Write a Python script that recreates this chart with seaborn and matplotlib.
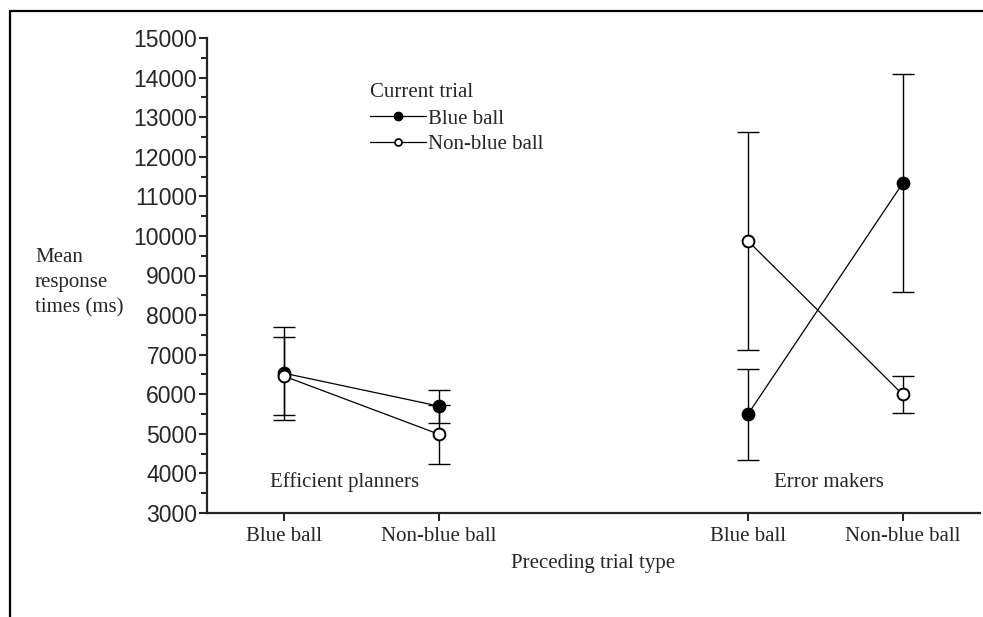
import matplotlib
matplotlib.use("Agg")
import matplotlib.pyplot as plt
import matplotlib.lines as mlines
from matplotlib.ticker import MultipleLocator
import seaborn as sns
import pandas as pd

# ---- data ----
groups = ["Efficient planners", "Error makers"]
preceding = ["Blue ball", "Non-blue ball"]
group_positions = [[0, 1], [3, 4]]
tick_positions = [0, 1, 3, 4]
tick_labels = ["Blue ball", "Non-blue ball", "Blue ball", "Non-blue ball"]

blue_means = {"Efficient planners": [6530, 5700], "Error makers": [5500, 11330]}
blue_errs = {"Efficient planners": [1170, 420], "Error makers": [1150, 2750]}
nonblue_means = {"Efficient planners": [6455, 4990], "Error makers": [9870, 5995]}
nonblue_errs = {"Efficient planners": [990, 740], "Error makers": [2760, 466]}

group_label_x = [0.39, 3.52]
group_label_y = 3780

sns.set_style("ticks")
serif = ["Liberation Serif", "DejaVu Serif"]
sans = ["Liberation Sans", "DejaVu Sans"]
plt.rcParams["font.family"] = serif

W, H = 983, 617
fig = plt.figure(figsize=(W / 100, H / 100), dpi=100)
ax = fig.add_axes([207 / W, 1 - 513 / H, (980 - 207) / W, (513 - 38) / H])

rows = []
for g, pos in zip(groups, group_positions):
    for i, p in enumerate(pos):
        rows.append(dict(group=g, x=p, trial="Blue ball", mean=blue_means[g][i], err=blue_errs[g][i]))
        rows.append(dict(group=g, x=p, trial="Non-blue ball", mean=nonblue_means[g][i], err=nonblue_errs[g][i]))
df = pd.DataFrame(rows)

styles = {"Blue ball": "black", "Non-blue ball": "white"}
for trial, fc in styles.items():
    for g in groups:
        sub = df[(df.trial == trial) & (df.group == g)]
        ax.errorbar(sub["x"], sub["mean"], yerr=sub["err"], fmt="none", ecolor="black",
                    elinewidth=1.0, capsize=8, capthick=1.0, zorder=2)
        sns.lineplot(data=sub, x="x", y="mean", ax=ax, color="black", linewidth=0.9,
                     estimator=None, sort=False, marker="o", markersize=8.5,
                     markerfacecolor=fc, markeredgecolor="black", markeredgewidth=1.4,
                     zorder=3, legend=False)

ax.set_xlim(-0.5, 4.5)
ax.set_ylim(3000, 15000)
ax.yaxis.set_major_locator(MultipleLocator(1000))
ax.yaxis.set_minor_locator(MultipleLocator(500))
ax.set_xticks(tick_positions)
ax.set_xticklabels(tick_labels, fontsize=15, family=serif)
for lab in ax.get_yticklabels():
    lab.set_family(sans)
    lab.set_fontsize(16.5)
ax.tick_params(axis="y", which="major", length=6, width=1.5, pad=1, direction="out")
ax.tick_params(axis="y", which="minor", length=4, width=1.5, direction="out")
ax.tick_params(axis="x", which="major", length=6, width=1.5, pad=4, direction="out")
sns.despine(ax=ax)
for s in ["left", "bottom"]:
    ax.spines[s].set_linewidth(1.6)
ax.set_xlabel("Preceding trial type", fontsize=15, labelpad=6)
ax.set_ylabel("")

for g, gx in zip(groups, group_label_x):
    ax.text(gx, group_label_y, g, ha="center", va="center", fontsize=15)

fig.text(35 / W, 1 - 283 / H, "Mean\nresponse\ntimes (ms)", ha="left", va="center",
         fontsize=15, linespacing=1.45)

# legend
h1 = mlines.Line2D([], [], color="black", lw=0.9, marker="o", markersize=6,
                   markerfacecolor="black", markeredgecolor="black")
h2 = mlines.Line2D([], [], color="black", lw=0.9, marker="o", markersize=5,
                   markerfacecolor="white", markeredgecolor="black", markeredgewidth=1.2)
leg = fig.legend([h1, h2], preceding, title="Current trial", loc="upper left",
                 bbox_to_anchor=(370 / W, 1 - 83 / H), frameon=False, fontsize=15,
                 title_fontsize=15, handlelength=2.7, handletextpad=0.1,
                 labelspacing=0.3, borderpad=0, borderaxespad=0)
leg._legend_box.align = "left"
leg._legend_box.sep = 5

# outer frame lines
fig.add_artist(mlines.Line2D([9.5 / W, 1.0], [1 - 11 / H, 1 - 11 / H], color="black", lw=1.6,
                             transform=fig.transFigure))
fig.add_artist(mlines.Line2D([9.5 / W, 9.5 / W], [1 - 11 / H, 0.0], color="black", lw=1.6,
                             transform=fig.transFigure))

fig.savefig("out.png", dpi=100)
